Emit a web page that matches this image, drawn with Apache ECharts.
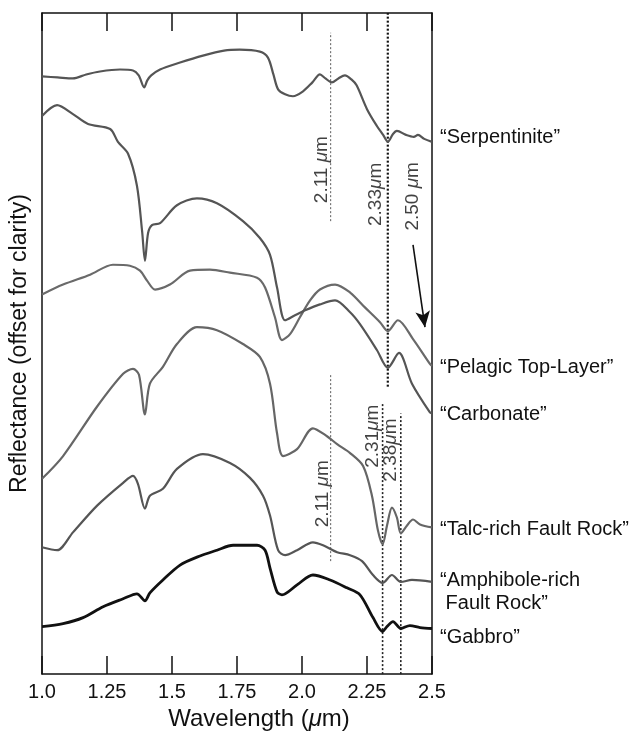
<!DOCTYPE html>
<html>
<head>
<meta charset="utf-8">
<script src="https://cdn.jsdelivr.net/npm/echarts@6/dist/echarts.min.js"></script>
<style>html,body{margin:0;padding:0;background:#fff}#c{width:643px;height:736px}</style>
</head>
<body>
<div id="c"></div>
<script>
// Wavelength (um) vs reflectance (arbitrary units, offset for clarity)
const xTickLabels = ['1.0', '1.25', '1.5', '1.75', '2.0', '2.25', '2.5'];

const serpentinite = [[1.000,6.03],[1.060,6.02],[1.119,6.01],[1.170,6.05],[1.223,6.08],[1.300,6.10],[1.350,6.09],[1.372,6.04],[1.393,5.92],[1.405,5.99],[1.420,6.04],[1.454,6.10],[1.531,6.17],[1.619,6.24],[1.700,6.29],[1.760,6.30],[1.838,6.28],[1.869,6.22],[1.890,6.05],[1.908,5.90],[1.935,5.85],[1.965,5.83],[2.004,5.88],[2.040,5.97],[2.069,6.05],[2.090,6.01],[2.115,5.97],[2.140,6.01],[2.165,6.04],[2.190,6.00],[2.210,5.94],[2.250,5.70],[2.288,5.53],[2.312,5.44],[2.330,5.37],[2.350,5.45],[2.365,5.48],[2.400,5.44],[2.430,5.42],[2.446,5.44],[2.470,5.40],[2.500,5.37]];

const pelagic = [[1.000,3.83],[1.081,3.93],[1.185,4.03],[1.273,4.13],[1.338,4.12],[1.377,4.07],[1.404,3.97],[1.435,3.88],[1.492,3.93],[1.569,4.07],[1.646,4.08],[1.723,4.05],[1.827,4.00],[1.858,3.90],[1.896,3.60],[1.923,3.37],[1.954,3.43],[1.992,3.60],[2.031,3.77],[2.069,3.88],[2.127,3.93],[2.185,3.85],[2.242,3.70],[2.300,3.55],[2.330,3.46],[2.369,3.57],[2.427,3.38],[2.492,3.13],[2.500,3.11]];

const carbonate = [[1.000,5.63],[1.058,5.74],[1.119,5.65],[1.177,5.55],[1.262,5.50],[1.292,5.37],[1.331,5.25],[1.365,4.93],[1.385,4.47],[1.396,4.17],[1.408,4.45],[1.423,4.53],[1.454,4.55],[1.519,4.73],[1.596,4.80],[1.673,4.75],[1.773,4.57],[1.838,4.40],[1.877,4.23],[1.904,3.90],[1.935,3.57],[1.973,3.62],[2.012,3.67],[2.069,3.73],[2.127,3.77],[2.185,3.65],[2.223,3.53],[2.288,3.27],[2.330,3.09],[2.373,3.24],[2.423,2.93],[2.492,2.64],[2.500,2.63]];

const talc = [[1.000,1.97],[1.081,2.20],[1.212,2.70],[1.312,3.03],[1.350,3.08],[1.373,3.02],[1.396,2.62],[1.415,2.93],[1.465,3.10],[1.519,3.33],[1.596,3.50],[1.673,3.47],[1.773,3.33],[1.838,3.20],[1.877,2.93],[1.904,2.43],[1.927,2.20],[1.981,2.27],[2.042,2.48],[2.096,2.40],[2.135,2.32],[2.185,2.23],[2.235,2.10],[2.269,1.80],[2.292,1.45],[2.310,1.31],[2.327,1.50],[2.346,1.68],[2.365,1.58],[2.380,1.42],[2.404,1.50],[2.427,1.56],[2.454,1.51],[2.500,1.48]];

const amphibole = [[1.000,1.28],[1.058,1.25],[1.119,1.43],[1.212,1.70],[1.312,1.93],[1.350,2.00],[1.369,1.92],[1.396,1.67],[1.415,1.80],[1.465,1.87],[1.519,2.07],[1.619,2.22],[1.723,2.13],[1.800,1.98],[1.850,1.80],[1.877,1.60],[1.908,1.25],[1.935,1.20],[1.981,1.25],[2.042,1.33],[2.081,1.30],[2.135,1.23],[2.185,1.20],[2.231,1.14],[2.273,1.00],[2.310,0.92],[2.346,1.00],[2.380,0.93],[2.423,0.95],[2.500,0.93]];

const gabbro = [[1.000,0.48],[1.081,0.51],[1.158,0.57],[1.235,0.68],[1.312,0.76],[1.365,0.81],[1.396,0.74],[1.415,0.82],[1.465,0.95],[1.531,1.10],[1.596,1.18],[1.673,1.25],[1.735,1.30],[1.827,1.30],[1.858,1.25],[1.877,1.07],[1.904,0.83],[1.923,0.80],[1.981,0.90],[2.042,1.00],[2.108,0.95],[2.173,0.87],[2.223,0.80],[2.273,0.57],[2.310,0.43],[2.327,0.48],[2.350,0.53],[2.380,0.46],[2.415,0.49],[2.454,0.47],[2.500,0.46]];

// vertical reference lines: [wavelength, lower, upper]
const refLinesThin = [[2.11, 4.57, 6.47], [2.11, 1.14, 3.03]];
const refLinesMid = [[2.31, 0, 2.73], [2.38, 0, 2.63]];
const refLinesBold = [[2.33, 2.90, 6.67]];

// annotation labels: [wavelength, reflectance, text]
const annotations = [
  [2.077, 5.09, '2.11 {i|μ}m'],
  [2.285, 4.84, '2.33{i|μ}m'],
  [2.427, 4.82, '2.50 {i|μ}m'],
  [2.081, 1.82, '2.11 {i|μ}m'],
  [2.271, 2.40, '2.31{i|μ}m'],
  [2.342, 2.26, '2.38{i|μ}m']
];
const arrow = [[2.427, 4.33], [2.473, 3.50]];

const FONT = '"Liberation Sans", Arial, Helvetica, sans-serif';
const chart = echarts.init(document.getElementById('c'), null, {renderer: 'canvas'});

function curve(name, data, color, width, label, dy) {
  return {
    type: 'line', name, data, smooth: 0.3, symbol: 'none', z: 3,
    lineStyle: {color, width},
    endLabel: {show: true, formatter: label, distance: 8, offset: [0, dy],
      color: '#111', fontSize: 20, fontFamily: FONT, align: 'left', lineHeight: 23}
  };
}
function vline(arr, color, width, dash, xi) {
  return arr.map(l => ({
    type: 'line', xAxisIndex: xi, data: [[l[0], l[1]], [l[0], l[2]]], symbol: 'none', z: 2,
    lineStyle: {color, width, type: dash}, silent: true
  }));
}

const axisCommon = {
  type: 'value', min: 1, max: 2.5, interval: 0.25,
  axisLine: {show: true, onZero: false, lineStyle: {color: '#111', width: 1.5}},
  axisTick: {show: true, inside: true, length: 18, lineStyle: {color: '#111', width: 1.5}},
  splitLine: {show: false}
};

const option = {
  animation: false,
  grid: {left: 42, right: 211, top: 13, bottom: 56},
  xAxis: [Object.assign({}, axisCommon, {
    position: 'bottom',
    name: 'Wavelength ({i|μ}m)', nameLocation: 'middle', nameGap: 29,
    nameTextStyle: {fontSize: 24, color: '#111', fontFamily: FONT, padding: [0, 0, 0, 44],
      rich: {i: {fontStyle: 'italic', fontSize: 24, fontFamily: FONT, color: '#111'}}},
    axisLabel: {fontSize: 20, color: '#111', fontFamily: FONT, margin: 8,
      formatter: v => xTickLabels[Math.round((v - 1) / 0.25)]}
  }), Object.assign({}, axisCommon, {
    position: 'top', axisLabel: {show: false}
  })],
  yAxis: [{
    type: 'value', min: 0, max: 6.67, position: 'left',
    name: 'Reflectance (offset for clarity)', nameLocation: 'middle', nameGap: 11,
    nameTextStyle: {fontSize: 23, color: '#111', fontFamily: FONT},
    axisLine: {show: true, onZero: false, lineStyle: {color: '#111', width: 1.5}},
    axisTick: {show: false}, axisLabel: {show: false}, splitLine: {show: false}
  }, {
    type: 'value', min: 0, max: 6.67, position: 'right',
    axisLine: {show: true, onZero: false, lineStyle: {color: '#111', width: 1.5}},
    axisTick: {show: false}, axisLabel: {show: false}, splitLine: {show: false}
  }],
  series: [
    curve('Serpentinite', serpentinite, '#555', 2.2, '“Serpentinite”', -4),
    curve('Pelagic Top-Layer', pelagic, '#6a6a6a', 2.2, '“Pelagic Top-Layer”', 2),
    curve('Carbonate', carbonate, '#555', 2.2, '“Carbonate”', 1),
    curve('Talc-rich Fault Rock', talc, '#666', 2.2, '“Talc-rich Fault Rock”', 2),
    curve('Amphibole-rich Fault Rock', amphibole, '#555', 2.2, '“Amphibole-rich\n Fault Rock”', 10),
    curve('Gabbro', gabbro, '#111', 2.8, '“Gabbro”', 9),
    ...vline(refLinesThin, '#777', 1.2, [2, 2], 0),
    ...vline(refLinesMid, '#222', 1.6, [2, 2], 0),
    ...vline(refLinesBold, '#111', 2.2, [2, 2], 1),
    {
      type: 'scatter', symbolSize: 0, z: 4, silent: true,
      data: annotations.map(a => ({value: [a[0], a[1]], label: {formatter: a[2]}})),
      label: {show: true, position: 'inside', rotate: 90, fontSize: 19, color: '#111', fontFamily: FONT,
        rich: {i: {fontStyle: 'italic', fontSize: 19, color: '#111', fontFamily: FONT}}}
    },
    {
      type: 'line', xAxisIndex: 1, data: [], symbol: 'none', silent: true,
      markLine: {
        silent: true, symbol: ['none', 'arrow'], symbolSize: [11, 16], label: {show: false},
        lineStyle: {color: '#111', width: 1.6, type: 'solid'},
        data: [[{coord: arrow[0]}, {coord: arrow[1]}]]
      }
    }
  ]
};
chart.setOption(option);
</script>
</body>
</html>
